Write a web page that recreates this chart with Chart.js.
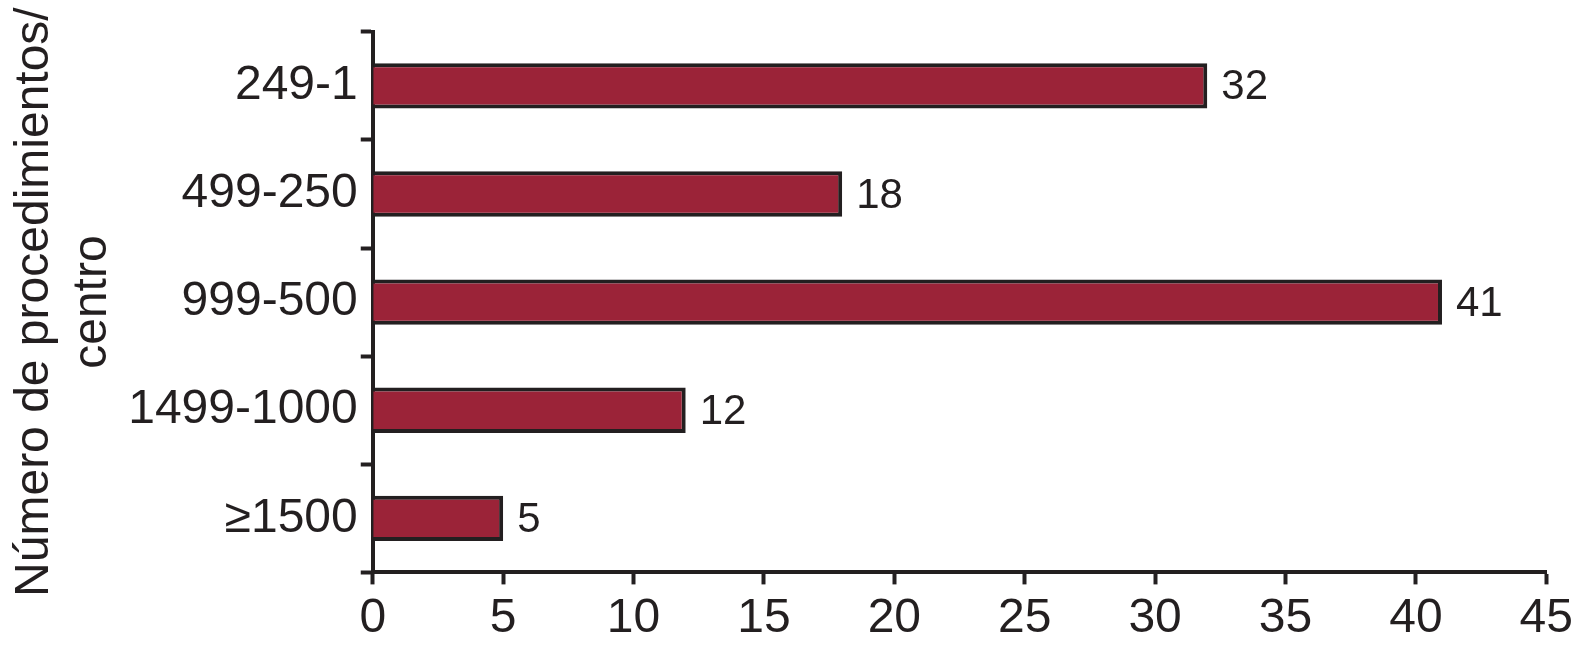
<!DOCTYPE html>
<html>
<head>
<meta charset="utf-8">
<script src="https://cdn.jsdelivr.net/npm/chart.js@4"></script>
<style>
  html, body { margin: 0; padding: 0; background: #fff; }
  #wrap { width: 1579px; height: 654px; }
</style>
</head>
<body>
<div id="wrap"><canvas id="chartCentros"></canvas></div>
<script>
const categorias = ['249-1', '499-250', '999-500', '1499-1000', '≥1500'];
const valores = [32, 18, 41, 12, 5];
const tituloEjeY = ['Número de procedimientos/', 'centro'];

const ink = '#231f20';

// etiquetas de valor al final de cada barra
const valueLabels = {
    id: 'valueLabels',
    afterDatasetsDraw(chart) {
        const ctx = chart.ctx;
        const meta = chart.getDatasetMeta(0);
        ctx.save();
        ctx.font = '42px "Liberation Sans", Arial, sans-serif';
        ctx.fillStyle = ink;
        ctx.textAlign = 'left';
        ctx.textBaseline = 'middle';
        meta.data.forEach((bar, i) => {
            ctx.fillText(String(valores[i]), bar.x + 14, bar.y + 2);
        });
        ctx.restore();
    }
};

const ctxCentros = document.getElementById('chartCentros').getContext('2d');
new Chart(ctxCentros, {
    type: 'bar',
    data: {
        labels: categorias,
        datasets: [{
            data: valores,
            backgroundColor: '#9b2338',
            borderColor: ink,
            borderWidth: 4,
            borderSkipped: 'start',
            categoryPercentage: 1,
            barPercentage: 0.42
        }]
    },
    options: {
        indexAxis: 'y',
        responsive: true,
        maintainAspectRatio: false,
        animation: false,
        layout: { padding: { top: 25, right: 13, left: 6, bottom: 0 } },
        plugins: {
            legend: { display: false },
            tooltip: { enabled: false }
        },
        scales: {
            x: {
                min: 0,
                max: 45,
                ticks: {
                    stepSize: 5,
                    color: ink,
                    padding: 6,
                    font: { family: '"Liberation Sans", Arial, sans-serif', size: 48 }
                },
                grid: {
                    drawOnChartArea: false,
                    tickLength: 12,
                    tickWidth: 4,
                    tickColor: ink
                },
                border: { color: ink, width: 4 }
            },
            y: {
                ticks: {
                    color: ink,
                    padding: 3,
                    font: { family: '"Liberation Sans", Arial, sans-serif', size: 48 }
                },
                grid: {
                    offset: true,
                    drawOnChartArea: false,
                    tickLength: 12,
                    tickWidth: 4,
                    tickColor: ink
                },
                border: { color: ink, width: 4 },
                title: {
                    display: true,
                    text: tituloEjeY,
                    color: ink,
                    padding: { top: 0, bottom: 4 },
                    font: { family: '"Liberation Sans", Arial, sans-serif', size: 48, lineHeight: 1.2 }
                }
            }
        }
    },
    plugins: [valueLabels]
});
</script>
</body>
</html>
